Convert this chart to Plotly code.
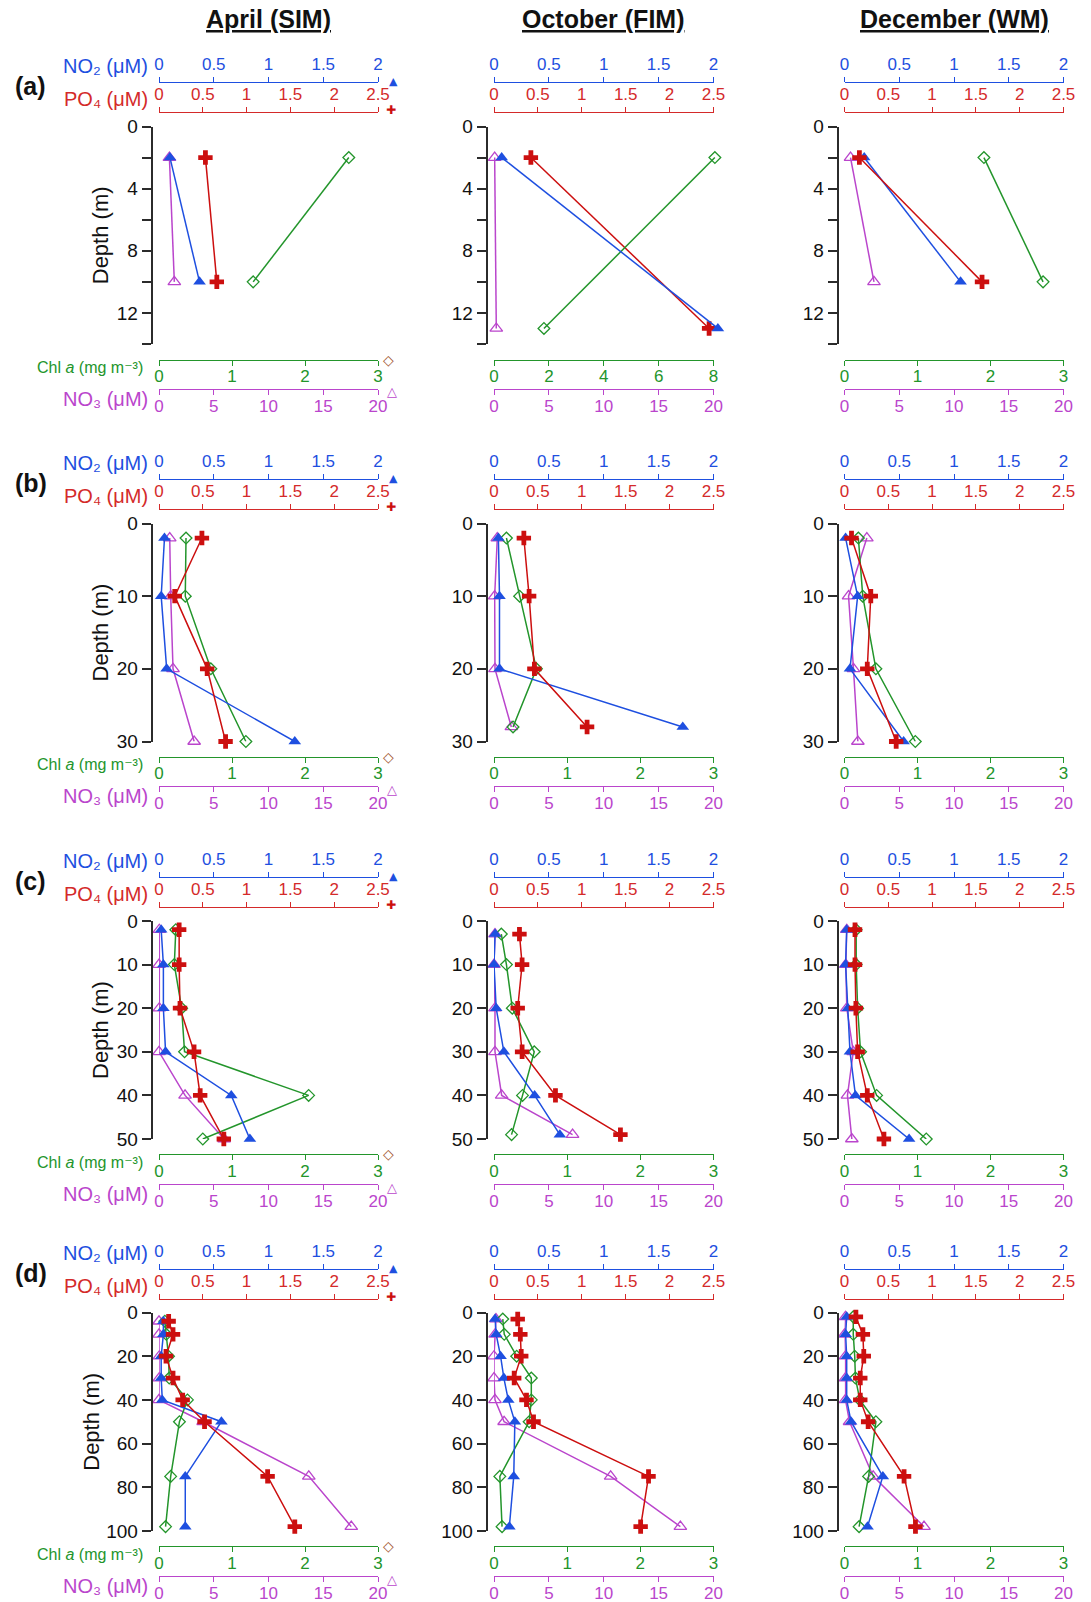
import plotly.graph_objects as go

W, H = 1091, 1602

MONTHS = ["April (SIM)", "October (FIM)", "December (WM)"]
ROW_TAGS = ["(a)", "(b)", "(c)", "(d)"]

# ---------------- station (a) ----------------
A_APR_DEPTH = [2, 10]
A_APR_NO2 = [0.10, 0.37]
A_APR_PO4 = [0.53, 0.66]
A_APR_CHL = [2.60, 1.29]
A_APR_NO3 = [0.95, 1.40]

A_OCT_DEPTH = [2, 13]
A_OCT_NO2 = [0.07, 2.04]
A_OCT_PO4 = [0.42, 2.45]
A_OCT_CHL = [8.05, 1.82]
A_OCT_NO3 = [0.06, 0.21]

A_DEC_DEPTH = [2, 10]
A_DEC_NO2 = [0.18, 1.06]
A_DEC_PO4 = [0.17, 1.57]
A_DEC_CHL = [1.91, 2.72]
A_DEC_NO3 = [0.55, 2.69]

# ---------------- station (b) ----------------
B_APR_DEPTH = [2, 10, 20, 30]
B_APR_NO2 = [0.05, 0.02, 0.07, 1.24]
B_APR_PO4 = [0.49, 0.18, 0.55, 0.76]
B_APR_CHL = [0.37, 0.36, 0.71, 1.19]
B_APR_NO3 = [0.98, 1.07, 1.28, 3.21]

B_OCT_DEPTH = [2, 10, 20, 28]
B_OCT_NO2 = [0.04, 0.05, 0.05, 1.72]
B_OCT_PO4 = [0.34, 0.40, 0.46, 1.06]
B_OCT_CHL = [0.17, 0.35, 0.58, 0.26]
B_OCT_NO3 = [0.30, 0.06, 0.09, 1.58]

B_DEC_DEPTH = [2, 10, 20, 30]
B_DEC_NO2 = [0.01, 0.12, 0.05, 0.54]
B_DEC_PO4 = [0.08, 0.30, 0.26, 0.59]
B_DEC_CHL = [0.19, 0.25, 0.43, 0.97]
B_DEC_NO3 = [2.04, 0.37, 0.82, 1.22]

# ---------------- station (c) ----------------
C_APR_DEPTH = [2, 10, 20, 30, 40, 50]
C_APR_NO2 = [0.02, 0.04, 0.04, 0.06, 0.66, 0.83]
C_APR_PO4 = [0.23, 0.23, 0.24, 0.40, 0.47, 0.74]
C_APR_CHL = [0.23, 0.21, 0.31, 0.35, 2.05, 0.60]
C_APR_NO3 = [0.03, 0.0, 0.03, 0.0, 2.38, 5.95]

C_OCT_DEPTH = [3, 10, 20, 30, 40, 49]
C_OCT_NO2 = [0.01, 0.0, 0.02, 0.09, 0.37, 0.60]
C_OCT_PO4 = [0.29, 0.32, 0.27, 0.32, 0.70, 1.44]
C_OCT_CHL = [0.10, 0.17, 0.25, 0.55, 0.39, 0.24]
C_OCT_NO3 = [0.09, 0.0, 0.09, 0.09, 0.70, 7.16]

C_DEC_DEPTH = [2, 10, 20, 30, 40, 50]
C_DEC_NO2 = [0.02, 0.01, 0.03, 0.05, 0.10, 0.59]
C_DEC_PO4 = [0.12, 0.12, 0.13, 0.15, 0.26, 0.45]
C_DEC_CHL = [0.16, 0.16, 0.18, 0.22, 0.44, 1.12]
C_DEC_NO3 = [0.21, 0.12, 0.21, 0.80, 0.27, 0.67]

# ---------------- station (d) ----------------
D_APR_DEPTH = [4, 10, 20, 30, 40, 50, 75, 98]
D_APR_NO2 = [0.04, 0.04, 0.02, 0.02, 0.03, 0.57, 0.24, 0.24]
D_APR_PO4 = [0.11, 0.16, 0.08, 0.16, 0.27, 0.52, 1.24, 1.55]
D_APR_CHL = [0.08, 0.10, 0.13, 0.14, 0.39, 0.28, 0.16, 0.09]
D_APR_NO3 = [0.0, 0.0, 0.03, 0.03, 0.0, 4.03, 13.68, 17.56]

D_OCT_DEPTH = [3, 10, 20, 30, 40, 50, 75, 98]
D_OCT_NO2 = [0.01, 0.02, 0.06, 0.09, 0.13, 0.19, 0.18, 0.14]
D_OCT_PO4 = [0.27, 0.30, 0.31, 0.23, 0.37, 0.45, 1.76, 1.67]
D_OCT_CHL = [0.12, 0.14, 0.31, 0.51, 0.51, 0.48, 0.08, 0.11]
D_OCT_NO3 = [0.18, 0.10, 0.0, 0.0, 0.09, 0.92, 10.63, 16.98]

D_DEC_DEPTH = [2, 10, 20, 30, 40, 50, 75, 98]
D_DEC_NO2 = [0.02, 0.01, 0.02, 0.02, 0.02, 0.06, 0.35, 0.21]
D_DEC_PO4 = [0.13, 0.21, 0.22, 0.18, 0.18, 0.27, 0.68, 0.81]
D_DEC_CHL = [0.12, 0.12, 0.14, 0.15, 0.21, 0.43, 0.33, 0.20]
D_DEC_NO3 = [0.09, 0.0, 0.09, 0.09, 0.09, 0.46, 2.62, 7.26]

# axis scales
NO2_TICKS = [0, 0.5, 1, 1.5, 2]
PO4_TICKS = [0, 0.5, 1, 1.5, 2, 2.5]
CHL_TICKS = [0, 1, 2, 3]
CHL_TICKS_WIDE = [0, 2, 4, 6, 8]
NO3_TICKS = [0, 5, 10, 15, 20]
DEPTH_MAX = [14, 30, 50, 100]
DEPTH_STEP = [4, 10, 10, 20]

# axis names
LBL_NO2 = "NO₂ (μM)"
LBL_PO4 = "PO₄ (μM)"
LBL_CHL = "Chl <i>a</i> (mg m⁻³)"
LBL_NO3 = "NO₃ (μM)"

PANELS = [
    [
        dict(depth=A_APR_DEPTH, no2=A_APR_NO2, po4=A_APR_PO4, chl=A_APR_CHL, no3=A_APR_NO3, chl_ticks=CHL_TICKS),
        dict(depth=A_OCT_DEPTH, no2=A_OCT_NO2, po4=A_OCT_PO4, chl=A_OCT_CHL, no3=A_OCT_NO3, chl_ticks=CHL_TICKS_WIDE),
        dict(depth=A_DEC_DEPTH, no2=A_DEC_NO2, po4=A_DEC_PO4, chl=A_DEC_CHL, no3=A_DEC_NO3, chl_ticks=CHL_TICKS),
    ],
    [
        dict(depth=B_APR_DEPTH, no2=B_APR_NO2, po4=B_APR_PO4, chl=B_APR_CHL, no3=B_APR_NO3, chl_ticks=CHL_TICKS),
        dict(depth=B_OCT_DEPTH, no2=B_OCT_NO2, po4=B_OCT_PO4, chl=B_OCT_CHL, no3=B_OCT_NO3, chl_ticks=CHL_TICKS),
        dict(depth=B_DEC_DEPTH, no2=B_DEC_NO2, po4=B_DEC_PO4, chl=B_DEC_CHL, no3=B_DEC_NO3, chl_ticks=CHL_TICKS),
    ],
    [
        dict(depth=C_APR_DEPTH, no2=C_APR_NO2, po4=C_APR_PO4, chl=C_APR_CHL, no3=C_APR_NO3, chl_ticks=CHL_TICKS),
        dict(depth=C_OCT_DEPTH, no2=C_OCT_NO2, po4=C_OCT_PO4, chl=C_OCT_CHL, no3=C_OCT_NO3, chl_ticks=CHL_TICKS),
        dict(depth=C_DEC_DEPTH, no2=C_DEC_NO2, po4=C_DEC_PO4, chl=C_DEC_CHL, no3=C_DEC_NO3, chl_ticks=CHL_TICKS),
    ],
    [
        dict(depth=D_APR_DEPTH, no2=D_APR_NO2, po4=D_APR_PO4, chl=D_APR_CHL, no3=D_APR_NO3, chl_ticks=CHL_TICKS),
        dict(depth=D_OCT_DEPTH, no2=D_OCT_NO2, po4=D_OCT_PO4, chl=D_OCT_CHL, no3=D_OCT_NO3, chl_ticks=CHL_TICKS),
        dict(depth=D_DEC_DEPTH, no2=D_DEC_NO2, po4=D_DEC_PO4, chl=D_DEC_CHL, no3=D_DEC_NO3, chl_ticks=CHL_TICKS),
    ],
]

# colours
BLUE = "#1E4FE0"
RED = "#CC0F0F"
RED_AX = "#D42A2A"
GREEN = "#23952B"
MAGENTA = "#BA45CC"
BROWN = "#A0522D"
INK = "#2B2B2B"
FONT = "Liberation Sans, Arial, DejaVu Sans, sans-serif"

# page geometry (pixels)
COL_X0 = [159, 494, 844.5]
COL_X1 = [378, 713.5, 1063.5]
YAX_X = [151.5, 486.5, 837.5]
ROW_TOP = [126.5, 523.5, 921, 1312.5]
ROW_BOT = [344, 741.5, 1139, 1531]
LINE_NO2 = [82, 479, 877, 1269]
LINE_PO4 = [112, 509, 907, 1299]
LINE_CHL = [359.5, 756.5, 1154, 1546]
LINE_NO3 = [389, 786, 1184, 1576]
SPILL_PX = 12  # room for markers that sit just past the end of a scale


def fx(px):
    return px / W


def fy(px):
    return 1 - px / H


def fmt(v):
    return "%g" % v


def ax_name(kind, n):
    return kind if n == 1 else f"{kind}{n}"


def x_axis(col, line_px, side, ticks, color, overlay=None):
    cfg = dict(
        domain=[fx(COL_X0[col]), fx(COL_X1[col])],
        anchor="free",
        position=fy(line_px),
        side=side,
        range=[ticks[0], ticks[-1]],
        tickmode="array",
        tickvals=ticks,
        ticktext=[fmt(t) for t in ticks],
        showline=True,
        linecolor=color,
        linewidth=1.4,
        ticks="outside",
        ticklen=5,
        tickwidth=1.4,
        tickcolor=color,
        tickfont=dict(size=17, color=color, family=FONT),
        ticklabelstandoff=-4 if side == "bottom" else 0,
        showgrid=False,
        zeroline=False,
        automargin=False,
        fixedrange=True,
    )
    if overlay:
        cfg["overlaying"] = overlay
    return cfg


def spill_axis(col, ticks):
    # invisible scale with the same px-per-unit, stretched a little to the right
    lo, hi = ticks[0], ticks[-1]
    width = COL_X1[col] - COL_X0[col]
    return dict(
        domain=[fx(COL_X0[col]), fx(COL_X1[col] + SPILL_PX)],
        anchor="free", position=0, visible=False,
        range=[lo, hi + (hi - lo) * SPILL_PX / width],
        showgrid=False, zeroline=False, automargin=False, fixedrange=True,
    )


fig = go.Figure()
layout = {}
annotations = []
next_x = 4 * 12 + 1

for r in range(4):
    for c in range(3):
        p = r * 3 + c
        panel = PANELS[r][c]
        yid = p + 1
        base = 4 * p + 1
        x_no3, x_chl, x_no2, x_po4 = (ax_name("x", base + k) for k in range(4))
        yname = ax_name("y", yid)

        layout[ax_name("xaxis", base)] = x_axis(c, LINE_NO3[r], "bottom", NO3_TICKS, MAGENTA)
        layout[ax_name("xaxis", base + 1)] = x_axis(c, LINE_CHL[r], "bottom", panel["chl_ticks"], GREEN, x_no3)
        layout[ax_name("xaxis", base + 2)] = x_axis(c, LINE_NO2[r], "top", NO2_TICKS, BLUE, x_no3)
        layout[ax_name("xaxis", base + 3)] = x_axis(c, LINE_PO4[r], "top", PO4_TICKS, RED_AX, x_no3)

        ycfg = dict(
            domain=[fy(ROW_BOT[r]), fy(ROW_TOP[r])],
            anchor="free",
            position=fx(YAX_X[c]),
            range=[DEPTH_MAX[r], 0],
            tickmode="linear",
            tick0=0,
            dtick=DEPTH_STEP[r],
            showline=True,
            linecolor=INK,
            linewidth=1.6,
            ticks="outside",
            ticklen=9,
            tickwidth=1.6,
            tickcolor=INK,
            tickfont=dict(size=19, color="#111111", family=FONT),
            showgrid=False,
            zeroline=False,
            automargin=False,
            fixedrange=True,
        )
        if r == 0:
            ycfg["minor"] = dict(dtick=2, tick0=0, ticks="outside", ticklen=9,
                                 tickwidth=1.6, tickcolor=INK, showgrid=False)
        layout[ax_name("yaxis", yid)] = ycfg

        series = [
            (panel["no3"], x_no3, NO3_TICKS, MAGENTA,
             dict(symbol="triangle-up-open", size=11, color=MAGENTA, line=dict(color=MAGENTA, width=1.3))),
            (panel["chl"], x_chl, panel["chl_ticks"], GREEN,
             dict(symbol="diamond-open", size=9, color=GREEN, line=dict(color=GREEN, width=1.3))),
            (panel["no2"], x_no2, NO2_TICKS, BLUE,
             dict(symbol="triangle-up", size=11, color=BLUE, line=dict(width=0))),
            (panel["po4"], x_po4, PO4_TICKS, RED,
             dict(symbol="cross", size=12, color=RED, line=dict(width=0))),
        ]
        for vals, xname, ticks, color, marker in series:
            if max(vals) > ticks[-1]:
                # keep the visible scale drawn, plot the profile on a wider twin
                fig.add_trace(go.Scatter(x=[], y=[], xaxis=xname, yaxis=yname,
                                         mode="markers", showlegend=False, hoverinfo="skip"))
                layout[ax_name("xaxis", next_x)] = spill_axis(c, ticks)
                xname = ax_name("x", next_x)
                next_x += 1
            fig.add_trace(go.Scatter(
                x=vals, y=panel["depth"], xaxis=xname, yaxis=yname,
                mode="lines+markers", line=dict(color=color, width=1.5),
                marker=marker, cliponaxis=False, showlegend=False, hoverinfo="x+y",
            ))

        if c == 0:
            # variable names at the left of the stacked axes
            for text, xpx, ypx, size, color in [
                (LBL_NO2, 150, LINE_NO2[r] - 16, 20, BLUE),
                (LBL_PO4, 150, LINE_PO4[r] - 13, 20, RED_AX),
                (LBL_CHL, 145, LINE_CHL[r] + 8, 16, GREEN),
                (LBL_NO3, 150, LINE_NO3[r] + 10, 20, MAGENTA),
            ]:
                annotations.append(dict(text=text, x=fx(xpx), y=fy(ypx), xref="paper", yref="paper",
                                        xanchor="right", yanchor="middle", showarrow=False,
                                        font=dict(size=size, color=color, family=FONT)))
            # symbol key on the right end of each axis
            for glyph, xpx, ypx, size, color in [
                ("▲", 393, LINE_NO2[r] - 1, 11, BLUE),
                ("✚", 391, LINE_PO4[r] - 2, 12, RED),
                ("◇", 388, LINE_CHL[r], 14, BROWN),
                ("△", 392, LINE_NO3[r] + 3, 13, MAGENTA),
            ]:
                annotations.append(dict(text=glyph, x=fx(xpx), y=fy(ypx), xref="paper", yref="paper",
                                        xanchor="center", yanchor="middle", showarrow=False,
                                        font=dict(size=size, color=color, family="DejaVu Sans")))
            annotations.append(dict(text="Depth (m)", x=fx(100 if r < 3 else 92),
                                    y=fy((ROW_TOP[r] + ROW_BOT[r]) / 2), xref="paper", yref="paper",
                                    textangle=-90, xanchor="center", yanchor="middle", showarrow=False,
                                    font=dict(size=22, color="#111111", family=FONT)))
            annotations.append(dict(text=f"<b>{ROW_TAGS[r]}</b>", x=fx(13), y=fy(LINE_NO2[r] + 4),
                                    xref="paper", yref="paper", xanchor="left", yanchor="middle",
                                    showarrow=False, font=dict(size=25, color="#111111", family=FONT)))

for c, title in enumerate(MONTHS):
    annotations.append(dict(text=f"<b><u>{title}</u></b>", x=fx((COL_X0[c] + COL_X1[c]) / 2), y=fy(19),
                            xref="paper", yref="paper", xanchor="center", yanchor="middle",
                            showarrow=False, font=dict(size=25, color="#111111", family=FONT)))

fig.update_layout(
    width=W, height=H, autosize=False,
    margin=dict(l=0, r=0, t=0, b=0, pad=0, autoexpand=False),
    paper_bgcolor="white", plot_bgcolor="rgba(0,0,0,0)",
    font=dict(family=FONT),
    annotations=annotations,
    showlegend=False,
    **layout,
)

fig.write_html("out.html")
